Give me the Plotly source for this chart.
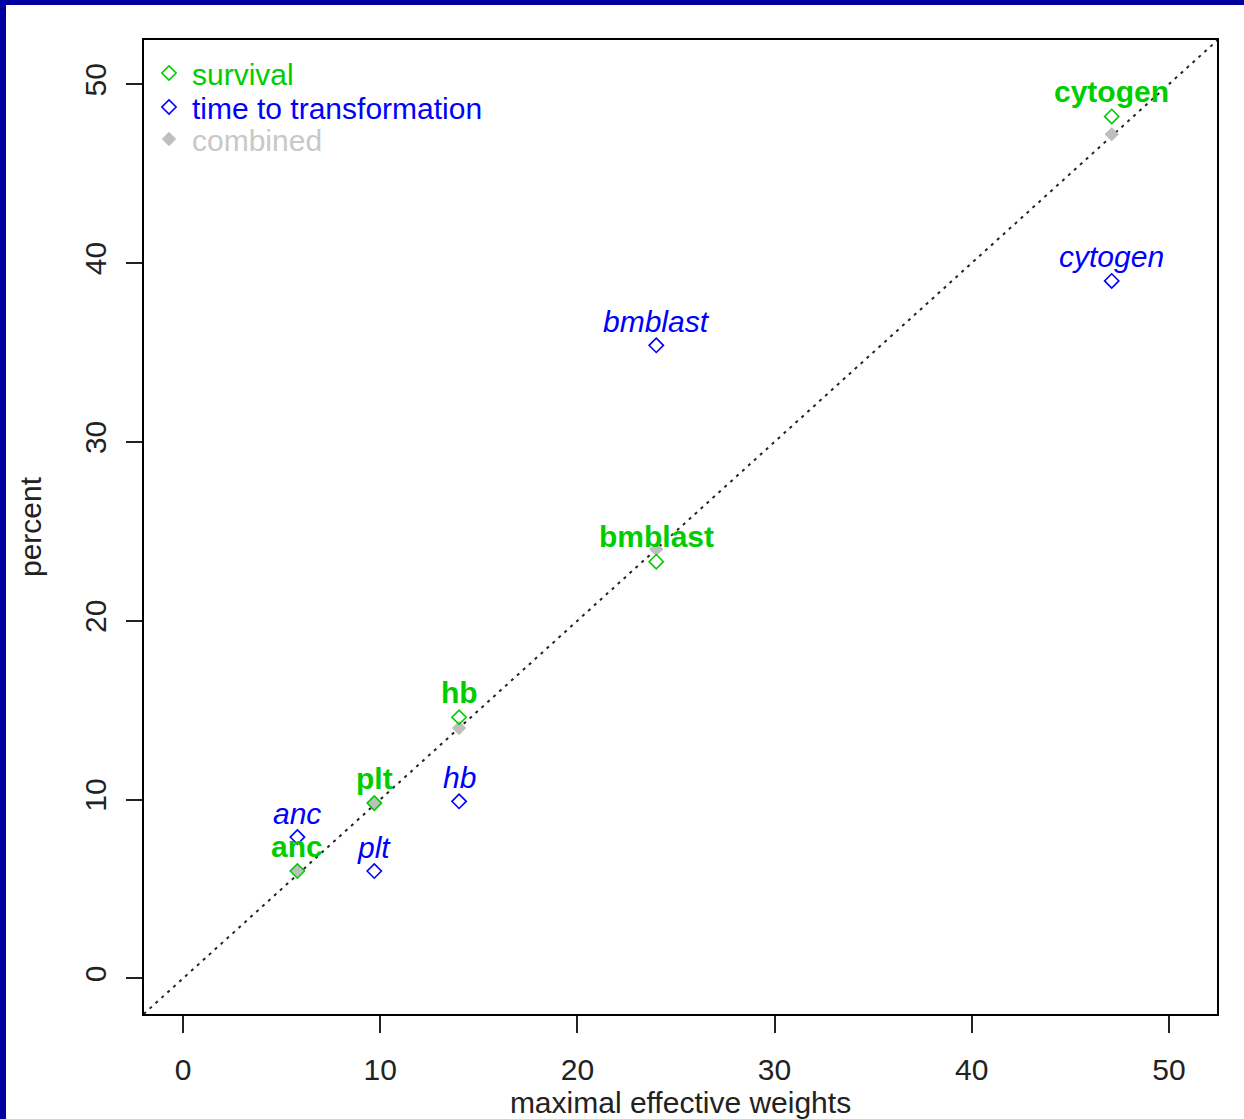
import plotly.graph_objects as go

# ---- data ----
variables = ["anc", "plt", "hb", "bmblast", "cytogen"]
weights = [5.8, 9.7, 14.0, 24.0, 47.1]          # maximal effective weights (x)
survival = [6.0, 9.8, 14.6, 23.3, 48.2]          # percent (green)
time_to_transformation = [7.9, 6.0, 9.9, 35.4, 39.0]  # percent (blue)
combined = [6.0, 9.8, 14.0, 24.0, 47.2]          # percent (grey)

x_ticks = [0, 10, 20, 30, 40, 50]
y_ticks = [0, 10, 20, 30, 40, 50]
x_range = [-2.03, 52.49]
y_range = [-2.05, 52.53]

GREEN = "#00CD00"
BLUE = "#0000FF"
GREY = "#BEBEBE"
FONT = "Liberation Sans, Arial, sans-serif"
FS = 30

W, H = 1244, 1119
L, R, T, B = 143, 26, 39, 104
PW, PH = W - L - R, H - T - B


def px_x(p):
    return (p - L) / PW


def px_y(p):
    return 1 - (p - T) / PH


fig = go.Figure()

fig.add_trace(go.Scatter(
    x=weights, y=combined, mode="markers", name="combined",
    marker=dict(symbol="diamond", size=11, color=GREY, line=dict(width=0)),
    legend="legend3", showlegend=True))
fig.add_trace(go.Scatter(
    x=weights, y=survival, mode="markers", name="survival",
    marker=dict(symbol="diamond-open", size=11, color=GREEN, line=dict(width=1.6)),
    legend="legend", showlegend=True))
fig.add_trace(go.Scatter(
    x=weights, y=time_to_transformation, mode="markers", name="time to transformation",
    marker=dict(symbol="diamond-open", size=11, color=BLUE, line=dict(width=1.6)),
    legend="legend2", showlegend=True))

annotations = []
for name, xv, yv in zip(variables, weights, survival):
    annotations.append(dict(x=xv, y=yv, xref="x", yref="y", text="<b>%s</b>" % name,
                            showarrow=False, yanchor="middle", xanchor="center", yshift=25,
                            font=dict(family=FONT, size=FS, color=GREEN)))
for name, xv, yv in zip(variables, weights, time_to_transformation):
    annotations.append(dict(x=xv, y=yv, xref="x", yref="y", text="<i>%s</i>" % name,
                            showarrow=False, yanchor="middle", xanchor="center", yshift=24,
                            font=dict(family=FONT, size=FS, color=BLUE)))

shapes = [
    # identity reference line (clipped to plot area)
    dict(type="line", xref="x", yref="y", x0=-5, y0=-5, x1=60, y1=60,
         line=dict(color="#222222", width=2, dash="3px,5px"), layer="below"),
    # plot frame
    dict(type="rect", xref="paper", yref="paper", x0=0, y0=0, x1=1, y1=1,
         line=dict(color="black", width=2), layer="above"),
    # navy outer border on top and left
    dict(type="rect", xref="paper", yref="paper", x0=px_x(0), x1=px_x(W), y0=px_y(5), y1=px_y(0),
         fillcolor="#0000A0", line=dict(width=0), layer="above"),
    dict(type="rect", xref="paper", yref="paper", x0=px_x(0), x1=px_x(6), y0=px_y(H), y1=px_y(0),
         fillcolor="#0000A0", line=dict(width=0), layer="above"),
]

leg_common = dict(bgcolor="rgba(0,0,0,0)", borderwidth=0, xanchor="left", yanchor="middle",
                  itemwidth=36, itemclick=False, itemdoubleclick=False)

fig.update_layout(
    width=W, height=H, autosize=False,
    margin=dict(l=L, r=R, t=T, b=B, pad=0, autoexpand=False),
    paper_bgcolor="white", plot_bgcolor="white",
    font=dict(family=FONT, size=FS, color="#222222"),
    annotations=annotations, shapes=shapes,
    legend=dict(x=px_x(146), y=px_y(73), font=dict(family=FONT, size=FS, color=GREEN), **leg_common),
    legend2=dict(x=px_x(146), y=px_y(107), font=dict(family=FONT, size=FS, color=BLUE), **leg_common),
    legend3=dict(x=px_x(146), y=px_y(139), font=dict(family=FONT, size=FS, color="#C8C8C8"), **leg_common),
    xaxis=dict(range=x_range, tickvals=x_ticks, ticktext=[str(v) for v in x_ticks],
               automargin=False,
               showgrid=False, zeroline=False, showline=False,
               ticks="outside", ticklen=17, tickwidth=2, tickcolor="#222222",
               ticklabelstandoff=11, tickfont=dict(family=FONT, size=FS, color="#222222"),
               title=dict(text="maximal effective weights", standoff=7,
                          font=dict(family=FONT, size=FS, color="#222222"))),
    yaxis=dict(range=y_range, tickvals=y_ticks, ticktext=[str(v) for v in y_ticks],
               automargin=False,
               showgrid=False, zeroline=False, showline=False,
               ticks="outside", ticklen=16, tickwidth=2, tickcolor="#222222",
               tickangle=-90, ticklabelstandoff=8,
               tickfont=dict(family=FONT, size=FS, color="#222222"),
               title=dict(text="percent", standoff=28,
                          font=dict(family=FONT, size=FS, color="#222222"))),
)

fig.write_html("out.html")
